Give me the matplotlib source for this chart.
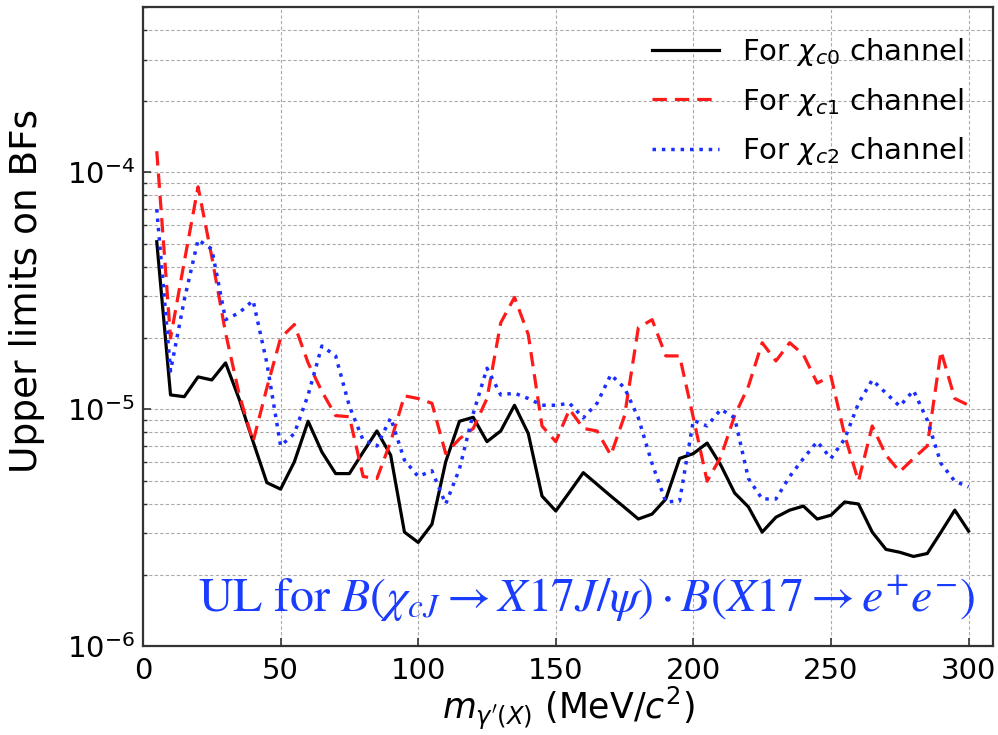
import numpy as np
import matplotlib
matplotlib.use("Agg")
import matplotlib.pyplot as plt
from matplotlib.ticker import LogLocator, NullFormatter, MultipleLocator

# scan points (MeV/c^2)
mass = [5, 10, 15, 20, 25, 30, 35, 40, 45, 50,
        55, 60, 65, 70, 75, 80, 85, 90, 95, 100,
        105, 110, 115, 120, 125, 130, 135, 140, 145, 150,
        155, 160, 165, 170, 175, 180, 185, 190, 195, 200,
        205, 210, 215, 220, 225, 230, 235, 240, 245, 250,
        255, 260, 265, 270, 275, 280, 285, 290, 295, 300]

# upper limits on BFs
ul_chic0 = [5.1e-5, 1.15e-5, 1.13e-5, 1.37e-5, 1.33e-5, 1.57e-5, 1.1e-5, 7.3e-6, 4.9e-6, 4.6e-6,
            6.0e-6, 8.9e-6, 6.6e-6, 5.35e-6, 5.35e-6, 6.6e-6, 8.1e-6, 6.4e-6, 3.03e-6, 2.74e-6,
            3.27e-6, 6.0e-6, 8.9e-6, 9.25e-6, 7.3e-6, 8.1e-6, 1.04e-5, 7.9e-6, 4.3e-6, 3.72e-6,
            4.47e-6, 5.4e-6, 4.82e-6, 4.3e-6, 3.85e-6, 3.44e-6, 3.61e-6, 4.18e-6, 6.2e-6, 6.5e-6,
            7.2e-6, 5.8e-6, 4.43e-6, 3.87e-6, 3.03e-6, 3.5e-6, 3.75e-6, 3.9e-6, 3.44e-6, 3.57e-6,
            4.06e-6, 3.98e-6, 3.03e-6, 2.56e-6, 2.49e-6, 2.39e-6, 2.46e-6, 3.03e-6, 3.75e-6, 3.06e-6]

ul_chic1 = [1.23e-4, 2.0e-5, 4.2e-5, 8.7e-5, 4.4e-5, 2.1e-5, 1.15e-5, 7.3e-6, 1.23e-5, 2.0e-5,
            2.28e-5, 1.57e-5, 1.19e-5, 9.4e-6, 9.3e-6, 5.2e-6, 5.1e-6, 7.3e-6, 1.14e-5, 1.11e-5,
            1.06e-5, 6.5e-6, 7.5e-6, 8.3e-6, 1.11e-5, 2.32e-5, 2.97e-5, 2.07e-5, 8.5e-6, 7.3e-6,
            1.0e-5, 8.3e-6, 8.1e-6, 6.4e-6, 9.4e-6, 2.21e-5, 2.39e-5, 1.68e-5, 1.68e-5, 9.2e-6,
            4.97e-6, 6.3e-6, 9.4e-6, 1.25e-5, 1.91e-5, 1.6e-5, 1.91e-5, 1.7e-5, 1.29e-5, 1.38e-5,
            7.75e-6, 4.97e-6, 8.5e-6, 6.4e-6, 5.45e-6, 6.2e-6, 7.0e-6, 1.76e-5, 1.11e-5, 1.04e-5]

ul_chic2 = [7.0e-5, 1.45e-5, 2.9e-5, 5.2e-5, 4.75e-5, 2.39e-5, 2.56e-5, 2.88e-5, 1.57e-5, 7.0e-6,
            7.9e-6, 1.15e-5, 1.85e-5, 1.68e-5, 1.03e-5, 7.4e-6, 7.0e-6, 9.2e-6, 6.1e-6, 5.2e-6,
            5.5e-6, 3.98e-6, 5.6e-6, 9.6e-6, 1.49e-5, 1.15e-5, 1.17e-5, 1.11e-5, 1.04e-5, 1.04e-5,
            1.06e-5, 9.2e-6, 1.06e-5, 1.4e-5, 1.23e-5, 9.2e-6, 5.9e-6, 4.06e-6, 4.1e-6, 8.98e-6,
            8.5e-6, 1.0e-5, 9.2e-6, 5.1e-6, 4.18e-6, 4.18e-6, 5.2e-6, 6.2e-6, 7.3e-6, 6.2e-6,
            7.5e-6, 1.06e-5, 1.33e-5, 1.17e-5, 1.03e-5, 1.2e-5, 9.0e-6, 5.9e-6, 4.97e-6, 4.7e-6]

labels = [r"For $\chi_{c0}$ channel", r"For $\chi_{c1}$ channel", r"For $\chi_{c2}$ channel"]

fig = plt.figure(figsize=(9.98, 7.35), dpi=100)
ax = fig.add_axes([0.1433, 0.121, 0.852, 0.8695])

ax.plot(mass, ul_chic0, color="k", ls="-", lw=2.3, label=labels[0])
ax.plot(mass, ul_chic1, color="#ff1a1a", ls=(0, (4.5, 2.5)), lw=2.3, label=labels[1])
ax.plot(mass, ul_chic2, color="#1a2eff", ls=(0, (1, 1.7)), lw=2.5, label=labels[2])

ax.set_yscale("log")
ax.set_xlim(0, 309)
ax.set_ylim(1e-6, 5e-4)
ax.xaxis.set_major_locator(MultipleLocator(50))
ax.yaxis.set_major_locator(LogLocator(base=10))
ax.yaxis.set_minor_locator(LogLocator(base=10, subs=np.arange(2, 10)))
ax.yaxis.set_minor_formatter(NullFormatter())

ax.grid(True, which="major", axis="both", ls=(0, (3, 2)), lw=0.8, color="#aaaaaa")
ax.grid(True, which="minor", axis="y", ls=(0, (3, 2)), lw=0.8, color="#aaaaaa")
ax.tick_params(which="both", direction="in", labelsize=21, color="#333333")
ax.tick_params(which="major", length=6, width=1.2)
ax.tick_params(axis="x", pad=8)
ax.tick_params(axis="y", pad=6)
ax.tick_params(which="minor", length=3, width=1.0)
for sp in ax.spines.values():
    sp.set_linewidth(1.6)
    sp.set_color("#333333")

ax.set_xlabel(r"$m_{\gamma'(X)}$ (MeV/$c^2$)", fontsize=25, labelpad=0)
ax.set_ylabel("Upper limits on BFs", fontsize=27)
ax.yaxis.set_label_coords(-0.115, 0.555)

ax.legend(loc="upper right", frameon=False, fontsize=21, handlelength=2.3,
          labelspacing=0.6, borderaxespad=0.6)

ax.text(0.522, 0.075,
        r"$\mathrm{UL\ for\ }B\left(\chi_{cJ}\rightarrow X17J/\psi\right)\cdot B(X17\rightarrow e^{+}e^{-})$",
        transform=ax.transAxes, ha="center", va="center", fontsize=34.5,
        color="#1a3cff", math_fontfamily="stix")

fig.savefig("out.png", dpi=100)
